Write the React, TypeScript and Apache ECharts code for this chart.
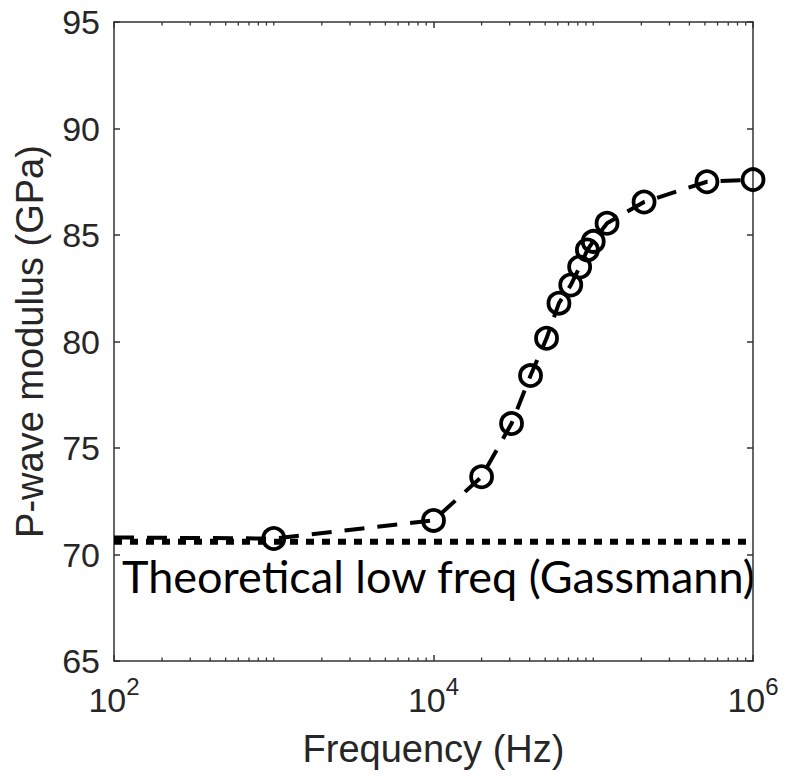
import { useEffect, useRef } from "react";
import * as echarts from "echarts";

const frequencies = [100, 1000, 10000, 20000, 30800, 40500, 51000, 61000, 72300, 82200, 91900, 100000, 122000, 208000, 515000, 1000000];
const modulus = [70.8, 70.75, 71.6, 73.65, 76.15, 78.4, 80.15, 81.8, 82.65, 83.5, 84.3, 84.7, 85.55, 86.55, 87.5, 87.6];
const gassmannFreq = [100, 1000000];
const gassmannModulus = [70.6, 70.6];
const yMin = 65;
const yMax = 95;
const yStep = 5;
const xMin = 100;
const xMax = 1000000;
const xLabelExponents = [2, 4, 6];
const minorTickFreqs = [
  200, 300, 400, 500, 600, 700, 800, 900,
  1000, 2000, 3000, 4000, 5000, 6000, 7000, 8000, 9000,
  20000, 30000, 40000, 50000, 60000, 70000, 80000, 90000,
  100000, 200000, 300000, 400000, 500000, 600000, 700000, 800000, 900000,
];
const theoreticalLabel = "Theoretical low freq (Gassmann)";
const xName = "Frequency (Hz)";
const yName = "P-wave modulus (GPa)";

const AXIS = "#333333";
const TEXT = "#262626";

export default function App() {
  const ref = useRef<HTMLDivElement>(null);
  useEffect(() => {
    if (!ref.current) return;
    const chart = echarts.init(ref.current, null, { renderer: "svg" });
    const labelFmt = (v: number) => {
      const e = Math.round(Math.log10(v));
      if (!xLabelExponents.includes(e)) return "";
      return "{b|10}{s|" + e + "}";
    };
    chart.setOption({
      animation: false,
      backgroundColor: "#ffffff",
      grid: { left: 114, right: 33, top: 22, bottom: 118, containLabel: false },
      xAxis: [
        {
          type: "log",
          logBase: 10,
          min: xMin,
          max: xMax,
          interval: 2,
          name: xName,
          nameLocation: "middle",
          nameGap: 69,
          nameTextStyle: { fontFamily: "Liberation Sans", fontSize: 38, color: TEXT },
          axisLine: { show: true, lineStyle: { color: AXIS, width: 1.5 } },
          axisTick: { show: true, inside: true, length: 6, lineStyle: { color: AXIS, width: 1.5 } },
          splitLine: { show: false },
          minorTick: { show: false },
          axisLabel: {
            margin: 8,
            formatter: labelFmt,
            rich: {
              b: { fontFamily: "Liberation Sans", fontSize: 34, color: TEXT, padding: [14, 0, 0, 0] },
              s: { fontFamily: "Liberation Sans", fontSize: 24, color: TEXT, padding: [0, 0, 14, 0] },
            },
          },
        },
        {
          type: "log",
          logBase: 10,
          min: xMin,
          max: xMax,
          interval: 2,
          position: "top",
          axisLine: { show: true, lineStyle: { color: AXIS, width: 1.5 } },
          axisTick: { show: true, inside: true, length: 6, lineStyle: { color: AXIS, width: 1.5 } },
          axisLabel: { show: false },
          splitLine: { show: false },
        },
      ],
      yAxis: [
        {
          type: "value",
          min: yMin,
          max: yMax,
          interval: yStep,
          name: yName,
          nameLocation: "middle",
          nameGap: 65,
          nameTextStyle: { fontFamily: "Liberation Sans", fontSize: 38, color: TEXT },
          axisLine: { show: true, lineStyle: { color: AXIS, width: 1.5 } },
          axisTick: { show: true, inside: true, length: 6, lineStyle: { color: AXIS, width: 1.5 } },
          splitLine: { show: false },
          axisLabel: { margin: 14, fontFamily: "Liberation Sans", fontSize: 34, color: TEXT },
        },
        {
          type: "value",
          min: yMin,
          max: yMax,
          interval: yStep,
          position: "right",
          axisLine: { show: true, lineStyle: { color: AXIS, width: 1.5 } },
          axisTick: { show: true, inside: true, length: 6, lineStyle: { color: AXIS, width: 1.5 } },
          splitLine: { show: false },
          axisLabel: { show: false },
        },
      ],
      series: [
        {
          type: "custom",
          name: "minorTicks",
          silent: true,
          clip: false,
          data: minorTickFreqs.map((f) => [f, yMin]),
          renderItem: (_params: any, api: any) => {
            const v = api.value(0);
            const b = api.coord([v, yMin]);
            const t = api.coord([v, yMax]);
            const len = 3.5;
            const st = { stroke: AXIS, lineWidth: 1.3 };
            return {
              type: "group",
              children: [
                { type: "line", shape: { x1: b[0], y1: b[1], x2: b[0], y2: b[1] - len }, style: st },
                { type: "line", shape: { x1: t[0], y1: t[1], x2: t[0], y2: t[1] + len }, style: st },
              ],
            };
          },
        },
        {
          type: "line",
          name: "Gassmann",
          data: gassmannFreq.map((f, i) => [f, gassmannModulus[i]]),
          symbol: "none",
          z: 2,
          lineStyle: { color: "#000", width: 6, type: [8, 8], cap: "butt" },
        },
        {
          type: "line",
          name: "Modulus",
          z: 3,
          data: frequencies.map((f, i) =>
            i === 0 ? { value: [f, modulus[i]], symbol: "none" } : [f, modulus[i]]
          ),
          symbol: "circle",
          symbolSize: 21,
          clip: false,
          lineStyle: { color: "#000", width: 4, type: [20, 13], cap: "butt" },
          itemStyle: { color: "rgba(0,0,0,0)", borderColor: "#000", borderWidth: 3.8 },
        },
      ],
      graphic: [
        {
          type: "text",
          left: 122,
          top: 553,
          style: { text: theoreticalLabel, font: "45px Lato", fill: "#000" },
        },
      ],
    });
    return () => chart.dispose();
  }, []);
  return (
    <div
      ref={ref}
      style={{ position: "fixed", left: 0, top: 0, width: 786, height: 779, background: "#fff" }}
    />
  );
}
